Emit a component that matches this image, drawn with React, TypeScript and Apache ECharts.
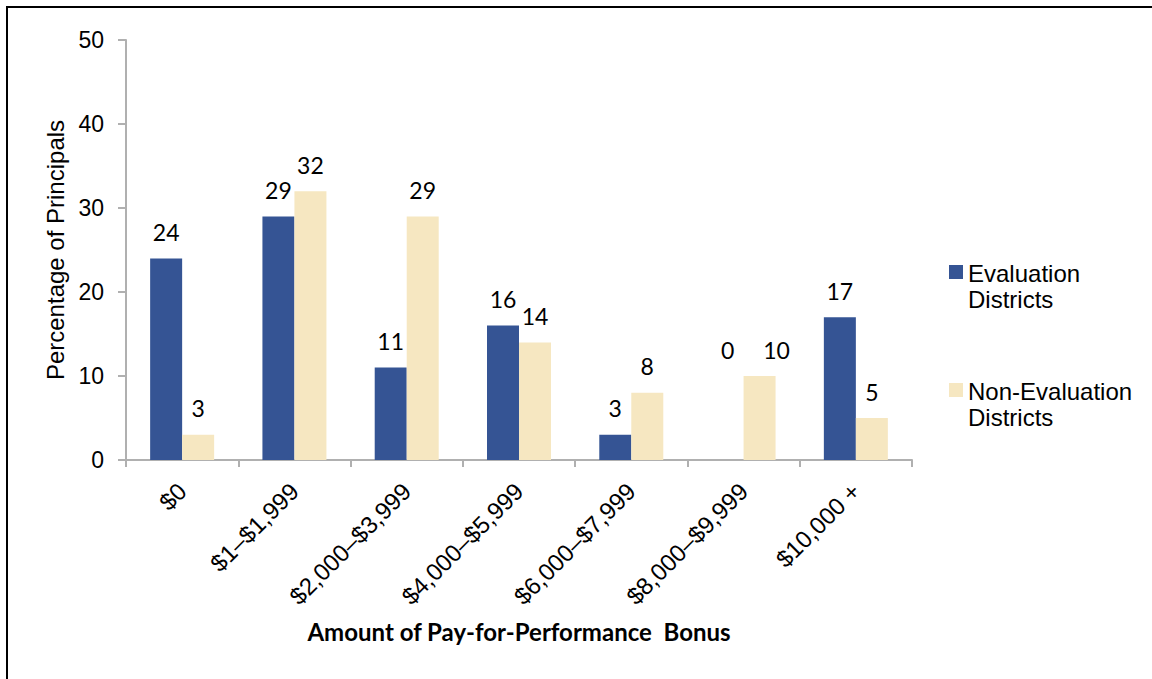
import React, { useEffect, useRef } from "react";
import * as echarts from "echarts";

const categories = [
  "$0",
  "$1–$1,999",
  "$2,000–$3,999",
  "$4,000–$5,999",
  "$6,000–$7,999",
  "$8,000–$9,999",
  "$10,000 +",
];
const evaluationDistricts = [24, 29, 11, 16, 3, 0, 17];
const nonEvaluationDistricts = [3, 32, 29, 14, 8, 10, 5];
const yAxisMin = 0;
const yAxisMax = 50;
const yAxisInterval = 10;

const seriesNames = ["Evaluation\nDistricts", "Non-Evaluation\nDistricts"];
const seriesColors = ["#355494", "#F6E7C1"];

const ARIAL = "'Liberation Sans', Arial, sans-serif";
const CALIBRI = "Lato, 'Open Sans', sans-serif";

export default function App() {
  const ref = useRef<HTMLDivElement>(null);

  useEffect(() => {
    if (!ref.current) return;
    const chart = echarts.init(ref.current, null, { renderer: "svg" });

    const labelStyle = {
      show: true,
      position: "top",
      distance: 15,
      fontFamily: CALIBRI,
      fontSize: 23,
      color: "#000",
    };

    // where the blue value is 0, its label was lifted to the level of the
    // neighbouring label and that neighbour nudged right
    const evalData = evaluationDistricts.map((v, i) =>
      v === 0
        ? { value: v, label: { offset: [0, -nonEvaluationDistricts[i] * 8.4] } }
        : v
    );
    const nonEvalData = nonEvaluationDistricts.map((v, i) =>
      evaluationDistricts[i] === 0 ? { value: v, label: { offset: [17, 0] } } : v
    );

    const legendIcon = "path://M0 0M0 5L14 5L14 19L0 19ZM0 52Z";

    chart.setOption({
      animation: false,
      backgroundColor: "#fff",
      graphic: [
        {
          type: "rect",
          shape: { x: 7, y: 7, width: 1300, height: 800 },
          style: { fill: "none", stroke: "#000", lineWidth: 2 },
          silent: true,
        },
      ],
      grid: { left: 126, right: 240, top: 40, bottom: 219, containLabel: false },
      legend: {
        orient: "vertical",
        left: 949,
        top: 260,
        padding: 0,
        itemGap: 66,
        itemWidth: 14,
        itemHeight: 52,
        icon: legendIcon,
        textStyle: { fontFamily: ARIAL, fontSize: 24, lineHeight: 26, color: "#000" },
        data: seriesNames,
      },
      xAxis: {
        type: "category",
        data: categories,
        name: "Amount of Pay-for-Performance  Bonus",
        nameLocation: "middle",
        nameGap: 159,
        nameTextStyle: { fontFamily: CALIBRI, fontWeight: "bold", fontSize: 24, color: "#000" },
        axisLine: { lineStyle: { color: "#b0b0b0", width: 2 } },
        axisTick: { show: true, length: 7, lineStyle: { color: "#b0b0b0", width: 2 } },
        axisLabel: {
          interval: 0,
          rotate: 45,
          margin: 27,
          fontFamily: ARIAL,
          fontSize: 24,
          color: "#000",
        },
      },
      yAxis: {
        type: "value",
        min: yAxisMin,
        max: yAxisMax,
        interval: yAxisInterval,
        name: "Percentage of Principals",
        nameLocation: "middle",
        nameGap: 55,
        nameTextStyle: { fontFamily: ARIAL, fontSize: 24, color: "#000" },
        splitLine: { show: false },
        axisLine: { show: true, lineStyle: { color: "#b0b0b0", width: 2 } },
        axisTick: { show: true, length: 8, lineStyle: { color: "#b0b0b0", width: 2 } },
        axisLabel: { margin: 22, fontFamily: ARIAL, fontSize: 23, color: "#000" },
      },
      series: [
        {
          name: seriesNames[0],
          type: "bar",
          data: evalData,
          barWidth: 32,
          barGap: "0%",
          itemStyle: { color: seriesColors[0] },
          label: labelStyle,
        },
        {
          name: seriesNames[1],
          type: "bar",
          data: nonEvalData,
          barWidth: 32,
          barGap: "0%",
          itemStyle: { color: seriesColors[1] },
          label: labelStyle,
        },
      ],
    });

    return () => chart.dispose();
  }, []);

  return (
    <div
      ref={ref}
      style={{ position: "fixed", left: 0, top: 0, width: 1152, height: 679, background: "#fff" }}
    />
  );
}
